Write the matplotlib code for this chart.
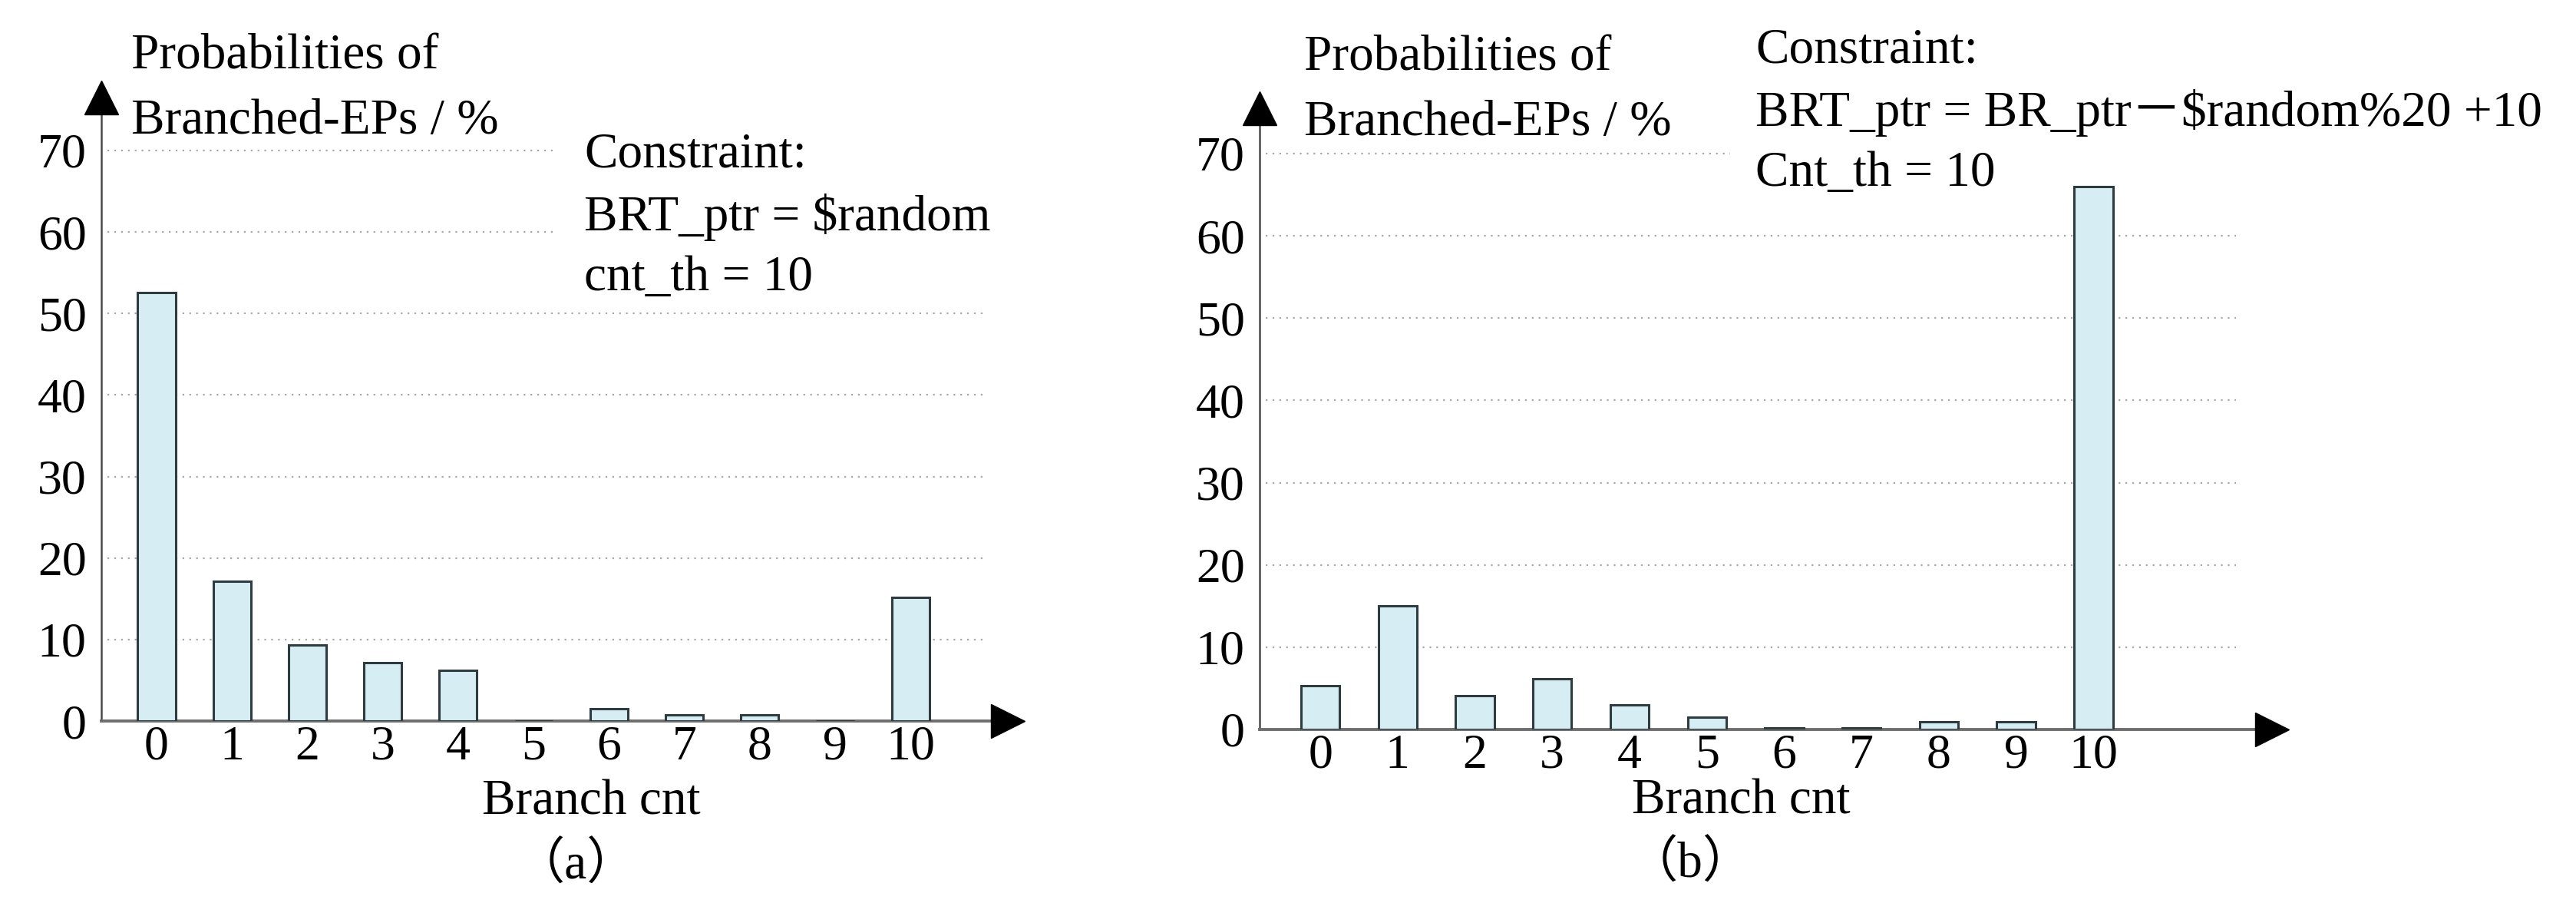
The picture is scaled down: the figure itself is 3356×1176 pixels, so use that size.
import matplotlib
matplotlib.use('Agg')
import matplotlib.pyplot as plt

W, H = 3356, 1176

# data
branch_cnt = [0, 1, 2, 3, 4, 5, 6, 7, 8, 9, 10]
prob_a = [52.6, 17.1, 9.3, 7.2, 6.2, 0.0, 1.5, 0.8, 0.8, 0.0, 15.2]
prob_b = [5.3, 15.0, 4.1, 6.2, 3.0, 1.5, 0.2, 0.2, 0.9, 0.9, 66.0]
y_ticks = [0, 10, 20, 30, 40, 50, 60, 70]

ylabel_text = "Probabilities of\nBranched-EPs / %"
xlabel_text = "Branch cnt"
constraint_a = "Constraint:\nBRT_ptr = $random\ncnt_th = 10"
constraint_b = "Constraint:\nBRT_ptr = BR_ptr\uff0d$random%20 +10\nCnt_th = 10"
tag_a = "\uff08a\uff09"
tag_b = "\uff08b\uff09"

plt.rcParams['font.family'] = ['Liberation Serif', 'Noto Sans CJK SC']
FS = 47

fig = plt.figure(figsize=(W / 100, H / 100), dpi=100)


def fx(x):
    return x / W


def fy(y):
    return 1 - y / H


def draw_panel(rect, values, xlim, ylim, grid_end, short_from, short_end):
    left, top, right, bottom = rect
    ax = fig.add_axes([fx(left), fy(bottom), (right - left) / W, (bottom - top) / H])
    ax.bar(branch_cnt, values, width=0.5, color='#d5edf3', edgecolor='#2e3b3f',
           linewidth=2.2, zorder=3)
    # dotted grid lines; the top ones stop where the constraint text starts
    for t in y_ticks[1:]:
        end = short_end if t >= short_from else grid_end
        ax.hlines(t, xlim[0] + 0.08, end, colors='#a8a8a8',
                  linestyles=(0, (1, 3)), linewidth=1.6, zorder=1)
    ax.set_xlim(*xlim)
    ax.set_ylim(*ylim)
    ax.set_xticks(branch_cnt)
    ax.set_yticks(y_ticks)
    ax.tick_params(length=0, labelsize=FS - 1)
    ax.tick_params(axis='y', pad=14)
    ax.tick_params(axis='x', pad=4)
    for s in ['top', 'right']:
        ax.spines[s].set_visible(False)
    ax.spines['bottom'].set_color('#6e6e6e')
    ax.spines['bottom'].set_linewidth(2.8)
    ax.spines['left'].set_color('#4a4a4a')
    ax.spines['left'].set_linewidth(1.8)
    # arrow heads
    ax.plot(1, 0, '>', color='k', ms=31, transform=ax.transAxes, clip_on=False, zorder=5)
    ax.plot(0, 1, '^', color='k', ms=31, transform=ax.transAxes, clip_on=False, zorder=5)
    ax.set_facecolor('none')
    return ax


# panel (a)
draw_panel((132, 127, 1313, 939), prob_a, (-0.733, 11.29), (0, 76.5), 10.95, 60, 5.3)
# panel (b)
draw_panel((1641, 141, 2960, 950), prob_b, (-0.785, 12.31), (0, 75.5), 11.84, 70, 5.3)

fig.text(fx(171), fy(44), ylabel_text, fontsize=FS, va='top', ha='left', linespacing=1.55)
fig.text(fx(761), fy(172), constraint_a, fontsize=FS, va='top', ha='left',
         linespacing=1.42, parse_math=False)
fig.text(fx(770), fy(1015), xlabel_text, fontsize=FS, va='top', ha='center')
fig.text(fx(750), fy(1128), tag_a, fontsize=FS, va='center', ha='center')

fig.text(fx(1699), fy(46), ylabel_text, fontsize=FS, va='top', ha='left', linespacing=1.55)
fig.text(fx(2287), fy(36), constraint_b, fontsize=FS, va='top', ha='left',
         linespacing=1.42, parse_math=False)
fig.text(fx(2268), fy(1014), xlabel_text, fontsize=FS, va='top', ha='center')
fig.text(fx(2202), fy(1126), tag_b, fontsize=FS, va='center', ha='center')

fig.savefig('out.png', dpi=100, facecolor='white')
